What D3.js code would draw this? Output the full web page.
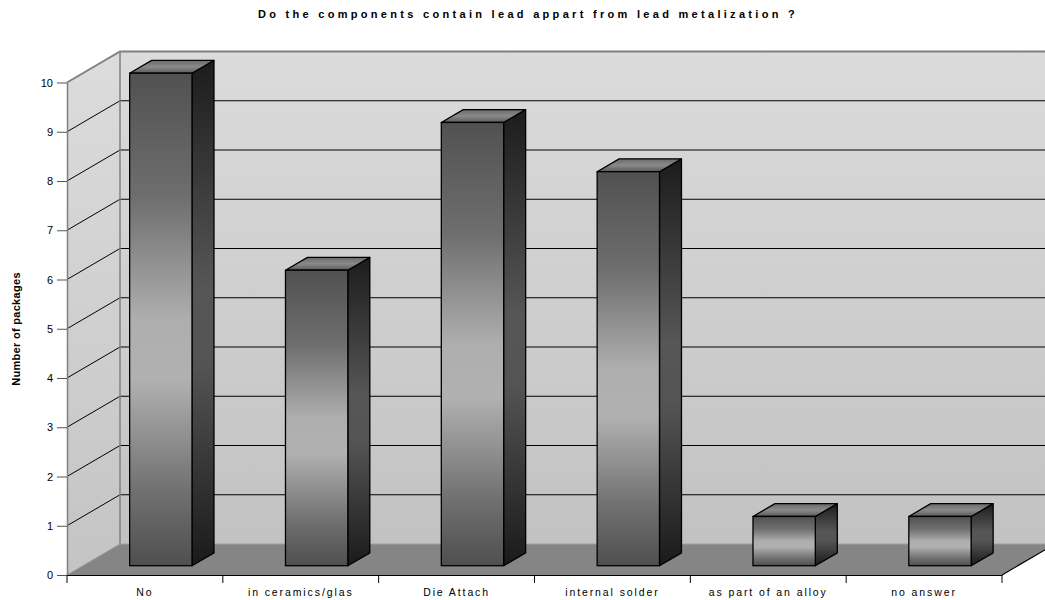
<!DOCTYPE html>
<html>
<head>
<meta charset="utf-8">
<script src="https://cdn.jsdelivr.net/npm/d3@7"></script>
<style>
  html, body { margin: 0; padding: 0; background: #fff; }
  svg { display: block; font-family: Arial, "Liberation Sans", sans-serif; }
</style>
</head>
<body>
<svg id="chart" width="1045" height="600"></svg>
<script>
// Survey answers: lead content apart from lead metalization
const categories = ["No", "in ceramics/glas", "Die Attach", "internal solder", "as part of an alloy", "no answer"];
const packages = [10, 6, 9, 8, 1, 1];
const yTicks = [0, 1, 2, 3, 4, 5, 6, 7, 8, 9, 10];
const chartTitle = "Do the components contain lead appart from lead metalization ?";
const yTitle = "Number of packages";

const W = 1045, H = 600;
const svg = d3.select("#chart");

// front plane of the 3D box
const x0 = 67, x1 = 1002;
const depth = { dx: 53, dy: -31 };          // floor depth offset
const x = d3.scaleBand().domain(categories).range([x0, x1]).padding(0);
const y = d3.scaleLinear().domain([0, 10]).range([575, 82.5]);

const defs = svg.append("defs");
function grad(id, stops) {
  const g = defs.append("linearGradient").attr("id", id)
    .attr("x1", 0).attr("y1", 0).attr("x2", 0).attr("y2", 1);
  stops.forEach(([o, c]) => g.append("stop").attr("offset", o).attr("stop-color", c));
}
grad("wallBack", [[0, "#dbdbdb"], [1, "#c2c2c2"]]);
grad("wallSide", [[0, "#dcdcdc"], [1, "#c4c4c4"]]);
grad("barFront", [[0, "#515151"], [0.25, "#6e6e6e"], [0.5, "#aeaeae"], [0.62, "#b1b1b1"], [0.85, "#707070"], [1, "#4f4f4f"]]);
grad("barSide", [[0, "#1c1c1c"], [0.45, "#565656"], [0.6, "#545454"], [1, "#1a1a1a"]]);
grad("barTop", [[0, "#6a6a6a"], [0.5, "#8a8a8a"], [1, "#5a5a5a"]]);

const pts = a => a.map(p => p.join(",")).join(" ");
const yTop = y(10), yBase = y(0);

// back wall
svg.append("polygon")
  .attr("points", pts([[x0 + depth.dx, yTop + depth.dy], [x1 + depth.dx, yTop + depth.dy],
                       [x1 + depth.dx, yBase + depth.dy], [x0 + depth.dx, yBase + depth.dy]]))
  .attr("fill", "url(#wallBack)");
// left side wall
svg.append("polygon")
  .attr("points", pts([[x0, yTop], [x0 + depth.dx, yTop + depth.dy],
                       [x0 + depth.dx, yBase + depth.dy], [x0, yBase]]))
  .attr("fill", "url(#wallSide)");
// floor
svg.append("polygon")
  .attr("points", pts([[x0, yBase], [x1, yBase], [x1 + depth.dx, yBase + depth.dy], [x0 + depth.dx, yBase + depth.dy]]))
  .attr("fill", "#858585");

// gridlines on the back wall and the side wall
const grid = svg.append("g");
yTicks.filter(v => v > 0 && v < 10).forEach(v => {
  grid.append("line")
    .attr("x1", x0 + depth.dx).attr("x2", x1 + depth.dx)
    .attr("y1", y(v) + depth.dy).attr("y2", y(v) + depth.dy)
    .attr("stroke", "#000").attr("stroke-width", 1);
  grid.append("line")
    .attr("x1", x0).attr("x2", x0 + depth.dx)
    .attr("y1", y(v)).attr("y2", y(v) + depth.dy)
    .attr("stroke", "#000").attr("stroke-width", 1);
});

// wall edges
svg.append("path")
  .attr("d", `M${x0},${yTop} L${x0 + depth.dx},${yTop + depth.dy} L${W + 5},${yTop + depth.dy}`)
  .attr("fill", "none").attr("stroke", "#808080").attr("stroke-width", 2);
svg.append("line")
  .attr("x1", x0 + depth.dx).attr("x2", x0 + depth.dx)
  .attr("y1", yTop + depth.dy).attr("y2", yBase + depth.dy)
  .attr("stroke", "#808080").attr("stroke-width", 1.5);
svg.append("line")
  .attr("x1", x0).attr("x2", x0 + depth.dx)
  .attr("y1", yBase).attr("y2", yBase + depth.dy)
  .attr("stroke", "#9a9a9a").attr("stroke-width", 1);
svg.append("line")
  .attr("x1", x0 + depth.dx).attr("x2", x1 + depth.dx)
  .attr("y1", yBase + depth.dy).attr("y2", yBase + depth.dy)
  .attr("stroke", "#a0a0a0").attr("stroke-width", 1);

// bars
const barFrac = 0.3, barDepthFrac = 0.415;
const bOff = { dx: depth.dx * barFrac, dy: depth.dy * barFrac };
const bD = { dx: depth.dx * barDepthFrac, dy: depth.dy * barDepthFrac };
const bw = x.bandwidth() * 0.4;

const bars = svg.append("g").selectAll("g").data(categories.map((c, i) => ({ c, v: packages[i] })))
  .join("g");
bars.each(function (d) {
  const g = d3.select(this);
  const L = x(d.c) + x.bandwidth() / 2 - bw / 2 + bOff.dx;
  const R = L + bw;
  const T = y(d.v) + bOff.dy;
  const B = y(0) + bOff.dy;
  g.append("polygon")
    .attr("points", pts([[R, T], [R + bD.dx, T + bD.dy], [R + bD.dx, B + bD.dy], [R, B]]))
    .attr("fill", "url(#barSide)").attr("stroke", "#000").attr("stroke-width", 1.3).attr("stroke-linejoin", "round");
  g.append("polygon")
    .attr("points", pts([[L, T], [L + bD.dx, T + bD.dy], [R + bD.dx, T + bD.dy], [R, T]]))
    .attr("fill", "url(#barTop)").attr("stroke", "#000").attr("stroke-width", 1.3).attr("stroke-linejoin", "round");
  g.append("rect")
    .attr("x", L).attr("y", T).attr("width", bw).attr("height", B - T)
    .attr("fill", "url(#barFront)").attr("stroke", "#000").attr("stroke-width", 1.3);
});

// value axis on the front left edge
const yAxis = svg.append("g")
  .attr("transform", `translate(${x0},0)`)
  .call(d3.axisLeft(y).tickValues(yTicks).tickFormat(d3.format("d")).tickSize(10).tickSizeOuter(0).tickPadding(4));
yAxis.select(".domain").attr("stroke", "#808080").attr("stroke-width", 1.5);
yAxis.selectAll(".tick line").attr("stroke", "#555");
yAxis.selectAll(".tick text").attr("font-size", 11).attr("fill", "#000")
  .attr("font-family", "Arial, 'Liberation Sans', sans-serif");

// category axis along the front floor edge
const xAxis = svg.append("g").attr("transform", `translate(0,${yBase})`)
  .call(d3.axisBottom(x).tickSize(0).tickPadding(14));
xAxis.select(".domain").attr("stroke", "#000").attr("stroke-width", 1.2);
xAxis.selectAll(".tick text").attr("font-size", 10.5).attr("fill", "#000")
  .attr("letter-spacing", "1.9px")
  .attr("font-family", "Arial, 'Liberation Sans', sans-serif");
const bounds = categories.map(c => x(c)).concat([x1]);
xAxis.selectAll(".bound").data(bounds).join("line").attr("class", "bound")
  .attr("x1", d => d).attr("x2", d => d).attr("y1", 0).attr("y2", 8)
  .attr("stroke", "#000");
// right floor edge
svg.append("line")
  .attr("x1", x1).attr("x2", x1 + depth.dx).attr("y1", yBase).attr("y2", yBase + depth.dy)
  .attr("stroke", "#000").attr("stroke-width", 1.2);

// titles
svg.append("text")
  .attr("x", 528).attr("y", 18).attr("text-anchor", "middle")
  .attr("font-size", 11).attr("font-weight", "bold").attr("letter-spacing", "3.3px")
  .text(chartTitle);
svg.append("text")
  .attr("transform", `translate(20,329) rotate(-90)`).attr("text-anchor", "middle")
  .attr("font-size", 11).attr("font-weight", "bold").attr("letter-spacing", "0.3px")
  .text(yTitle);
</script>
</body>
</html>
